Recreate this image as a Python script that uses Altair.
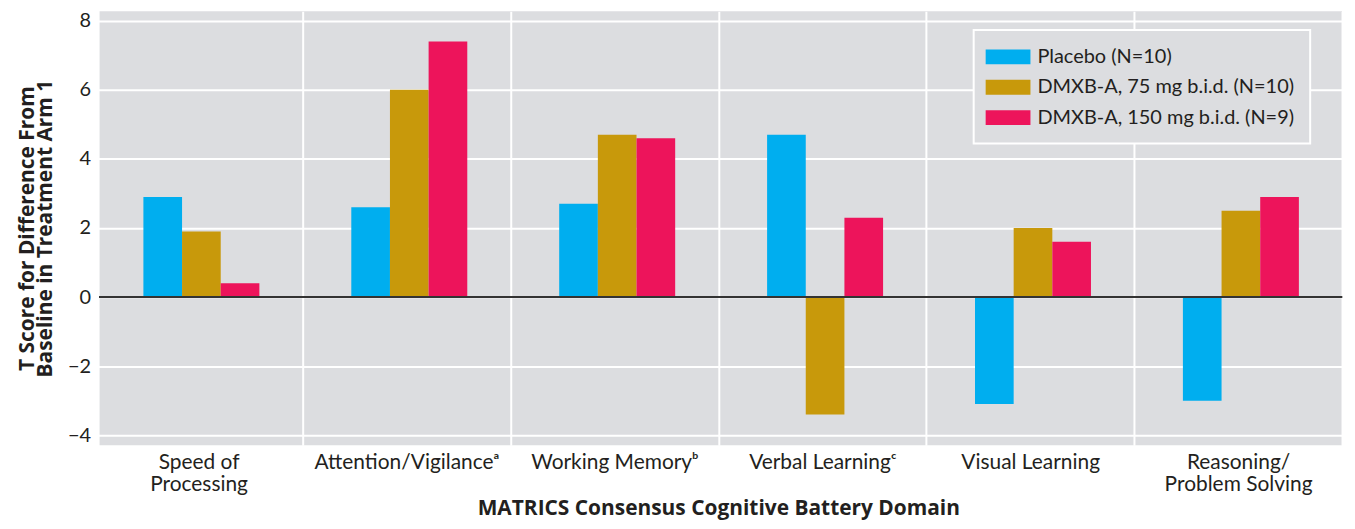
import altair as alt
import pandas as pd

categories = [
    "Speed of|Processing",
    "Attention/Vigilanceᵃ",
    "Working Memoryᵇ",
    "Verbal Learningᶜ",
    "Visual Learning",
    "Reasoning/|Problem Solving",
]
series_names = [
    "Placebo (N=10)",
    "DMXB-A, 75 mg b.i.d. (N=10)",
    "DMXB-A, 150 mg b.i.d. (N=9)",
]
placebo = [2.9, 2.6, 2.7, 4.7, -3.1, -3.0]
dose75 = [1.9, 6.0, 4.7, -3.4, 2.0, 2.5]
dose150 = [0.4, 7.4, 4.6, 2.3, 1.6, 2.9]
colors = ["#00aeef", "#c8990b", "#ed145b"]
y_ticks = [-4, -2, 0, 2, 4, 6, 8]

rows = []
for name, vals in zip(series_names, [placebo, dose75, dose150]):
    for c, v in zip(categories, vals):
        rows.append({"domain": c, "group": name, "value": v})
df = pd.DataFrame(rows)

FONT = "Lato"
TFONT = "Open Sans"
TXT = "#231f20"

bars = alt.Chart(df).mark_bar().encode(
    x=alt.X(
        "domain:N",
        sort=categories,
        scale=alt.Scale(paddingInner=0, paddingOuter=0, range=[-5, 1248]),
        axis=alt.Axis(
            title="MATRICS Consensus Cognitive Battery Domain",
            labelAngle=0,
            labelExpr="split(datum.label, '|')",
            labelLineHeight=23,
            labelPadding=6,
            labelFontSize=21,
            labelFont=FONT,
            labelColor=TXT,
            labelLimit=400,
            tickBand="extent",
            ticks=False,
            tickSize=0,
            domain=False,
            grid=True,
            gridColor="white",
            gridWidth=2,
            titleFont=TFONT,
            titleFontSize=21,
            titleFontWeight="bold",
            titleColor=TXT,
            titlePadding=3,
        ),
    ),
    xOffset=alt.XOffset(
        "group:N",
        sort=series_names,
        scale=alt.Scale(paddingInner=0, paddingOuter=0, range=[49, 165.5]),
    ),
    y=alt.Y(
        "value:Q",
        scale=alt.Scale(domain=[-4.29, 8.28], nice=False, zero=False),
        axis=alt.Axis(
            title=["T Score for Difference From", "Baseline in Treatment Arm 1"],
            values=y_ticks,
            ticks=False,
            tickSize=0,
            domain=False,
            grid=True,
            gridColor="white",
            gridWidth=2,
            labelPadding=9,
            labelFontSize=20,
            labelFont=FONT,
            labelColor=TXT,
            titleFont=TFONT,
            titleFontSize=21,
            titleFontWeight="bold",
            titleColor=TXT,
            titleLineHeight=18,
            titlePadding=12,
        ),
    ),
    color=alt.Color(
        "group:N",
        sort=series_names,
        scale=alt.Scale(domain=series_names, range=colors),
        legend=alt.Legend(
            title=None,
            orient="none",
            legendX=878,
            legendY=19,
            symbolType="M-1.36,-0.68H2.73V0.68H-1.36Z",
            symbolSize=484,
            symbolStrokeWidth=0,
            symbolOpacity=1,
            padding=16,
            labelOffset=26,
            rowPadding=9.5,
            labelLimit=500,
            labelFont=FONT,
            labelFontSize=20,
            labelColor=TXT,
            strokeColor="white",
            fillColor="#dcdde0",
        ),
    ),
)

zero = alt.Chart(df).mark_rule(color="#333333", strokeWidth=2).encode(y=alt.datum(0))

chart = (
    alt.layer(bars, zero)
    .properties(width=1248, height=436, padding={"left": 8, "top": 1, "right": 0, "bottom": 0})
    .configure_view(fill="#dcdde0", stroke=None)
    .configure_legend(strokeWidth=2)
)

chart.save("out.html", embed_options={"renderer": "svg", "actions": False})
